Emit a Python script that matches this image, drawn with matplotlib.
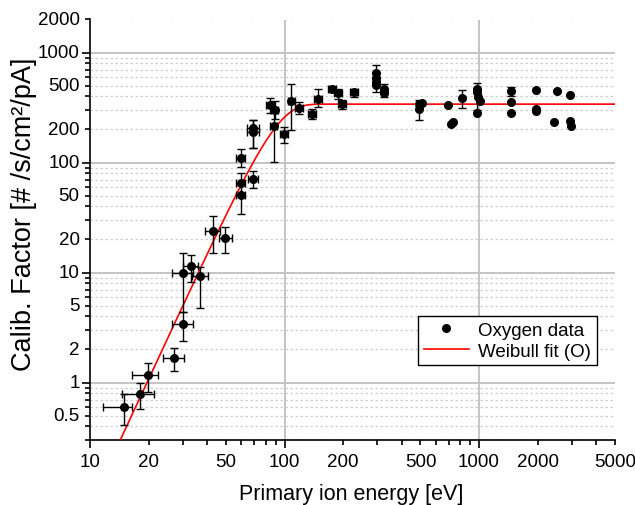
import numpy as np
import matplotlib.pyplot as plt
from matplotlib.ticker import FixedLocator, NullFormatter

plt.rcParams['font.family'] = ['Liberation Sans', 'DejaVu Sans']

# oxygen calibration data: energy [eV], calib factor, and error bounds
energy = [15.0, 18.1, 19.95, 27.0, 29.9, 29.9, 33.0, 36.8, 42.8, 49.6,
          59.6, 59.6, 59.6, 69.1, 69.1, 69.1, 84.1, 89.3, 88.5, 99.4,
          108.5, 118.5, 139, 148, 176, 188, 198, 228,
          295, 295, 295, 295, 326, 326, 326,
          493, 493, 507, 690, 718, 735, 818,
          977, 977, 990, 1006, 980,
          1466, 1466, 1466, 1960, 1960, 1960,
          2530, 2443, 2940, 2920, 2973]
factor = [0.60, 0.79, 1.17, 1.68, 3.39, 9.9, 11.5, 9.3, 23.9, 20.5,
          50.4, 65.8, 111, 71.6, 208, 188, 332, 303, 216, 180,
          360, 312, 279, 380, 470, 425, 339, 435,
          653, 589, 542, 512, 471, 441, 425,
          344, 308, 350, 332, 226, 235, 390,
          464, 441, 396, 364, 285,
          444, 356, 285, 454, 310, 295,
          449, 235, 415, 237, 216]
# lower / upper y error bounds (None = no bar)
y_lo = [0.41, 0.57, 0.82, 1.28, 2.37, 4.4, 8.2, 4.76, 15.2, 14.9,
        34.4, 50, 92, 59, 136, 136, 280, 250, 101, 151,
        199, 279, 250, 320, 440, 380, 310, 394,
        437, None, None, None, 395, None, None,
        242, None, None, None, None, None, 316,
        299, None, None, None, None,
        400, None, None, None, None, None,
        None, None, None, None, None]
y_hi = [0.79, 1.0, 1.49, 2.08, 4.4, 15.2, 14.3, 11.3, 32.5, 26.0,
        63, 80, 134, 83, 242, 242, 390, 360, 300, 211,
        522, 355, 310, 464, 500, 470, 370, 470,
        774, None, None, None, 522, None, None,
        369, None, None, None, None, None, 456,
        525, None, None, None, None,
        483, None, None, None, None, None,
        None, None, None, None, None]
x_lo = [11.7, 14.6, 16.5, 23.6, 26.3, 26.3, 30.0, 33.3, 39.0, 45.8,
        56.5, 56.5, 56.5, 65, 64.5, 64.5, 80, 85, 84, 95,
        104, 113, 132, 141, 168, 180, 189, 218,
        None, None, None, None, None, None, None,
        None, None, None, None, None, None, None,
        None, None, None, None, None,
        None, None, None, None, None, None,
        None, None, None, None, None]
x_hi = [16.4, 21.4, 22.4, 30.5, 33.7, 33.7, 36.0, 40.6, 46.6, 53.7,
        62.5, 63, 63, 73, 74, 74, 88, 93, 91, 104,
        113, 125, 146, 156, 184, 197, 208, 240,
        None, None, None, None, None, None, None,
        None, None, None, None, None, None, None,
        None, None, None, None, None,
        None, None, None, None, None, None,
        None, None, None, None, None]

xlabs = [10, 20, 50, 100, 200, 500, 1000, 2000, 5000]
ylabs = [0.5, 1, 2, 5, 10, 20, 50, 100, 200, 500, 1000, 2000]

# Weibull fit parameters (O)
fit_A = 340.0
fit_lam = 91.0
fit_k = 3.8

x = np.array(energy)
y = np.array(factor)

fig = plt.figure(figsize=(6.35, 5.06), dpi=100)
ax = fig.add_axes([90 / 635, 1 - 441 / 506, 525 / 635, 420.5 / 506])

ax.set_xscale('log')
ax.set_yscale('log')
ax.set_xlim(10, 5000)
ax.set_ylim(0.3, 2000)

# grid
for d in [1, 10, 100, 1000]:
    ax.axhline(d, color='#c4c4c4', lw=1.4, zorder=0)
minor_y = [m * 10.0 ** e for e in range(-1, 4) for m in range(2, 10)]
minor_y = [v for v in minor_y if 0.3 <= v <= 2000]
for v in minor_y:
    ax.axhline(v, color='#cfcfcf', lw=0.9, ls=(0, (2, 2)), zorder=0)
for d in [100, 1000]:
    ax.axvline(d, color='#c4c4c4', lw=1.4, zorder=0)

# fit curve
xf = np.geomspace(10, 5000, 600)
yf = fit_A * (1 - np.exp(-(xf / fit_lam) ** fit_k))
ax.plot(xf, yf, color='red', lw=1.2, zorder=3, label='Weibull fit (O)')

# error bars
my = np.array([v is not None for v in y_lo])
ylo = np.array([v if v is not None else np.nan for v in y_lo])
yhi = np.array([v if v is not None else np.nan for v in y_hi])
ax.errorbar(x[my], y[my], yerr=[y[my] - ylo[my], yhi[my] - y[my]], fmt='none',
            ecolor='black', elinewidth=1, capsize=3, capthick=1, zorder=4)
mx = np.array([v is not None for v in x_lo])
xlo = np.array([v if v is not None else np.nan for v in x_lo])
xhi = np.array([v if v is not None else np.nan for v in x_hi])
ax.errorbar(x[mx], y[mx], xerr=[x[mx] - xlo[mx], xhi[mx] - x[mx]], fmt='none',
            ecolor='black', elinewidth=1, capsize=3, capthick=1, zorder=4)

ax.plot(x, y, 'o', color='black', ms=5.5, zorder=5, label='Oxygen data')

# ticks
ax.xaxis.set_major_locator(FixedLocator([10, 100, 1000]))
ax.xaxis.set_minor_locator(FixedLocator([m * 10.0 ** e for e in range(1, 4) for m in range(2, 10)
                                         if m * 10.0 ** e <= 5000]))
ax.xaxis.set_major_formatter(NullFormatter())
ax.xaxis.set_minor_formatter(NullFormatter())
ax.yaxis.set_major_locator(FixedLocator([1, 10, 100, 1000]))
ax.yaxis.set_minor_locator(FixedLocator(minor_y))
ax.yaxis.set_major_formatter(NullFormatter())
ax.yaxis.set_minor_formatter(NullFormatter())
ax.tick_params(which='major', direction='out', length=6, width=1.2)
ax.tick_params(which='minor', direction='out', length=3.5, width=1.2)

for v in xlabs:
    ax.annotate(f'{v:g}', xy=(v, 0), xycoords=('data', 'axes fraction'),
                xytext=(0, -9.5), textcoords='offset points', ha='center', va='top',
                fontsize=13.5)
for v in ylabs:
    ax.annotate(f'{v:g}', xy=(0, v), xycoords=('axes fraction', 'data'),
                xytext=(-7.5, 0), textcoords='offset points', ha='right', va='center',
                fontsize=13.5)

for s in ['top', 'right']:
    ax.spines[s].set_visible(False)
for s in ['left', 'bottom']:
    ax.spines[s].set_linewidth(1.2)

fig.text(351 / 635, 1 - 495 / 506, 'Primary ion energy [eV]', ha='center', va='center', fontsize=15.5)
fig.text(24 / 635, 1 - 214 / 506, 'Calib. Factor [# /s/cm²/pA]', ha='center', va='center',
         rotation=90, fontsize=19.5)

h, l = ax.get_legend_handles_labels()
leg = ax.legend(h[::-1], l[::-1], loc='upper left', bbox_to_anchor=(0.625, 0.295),
                borderaxespad=0, fancybox=False, edgecolor='black', fontsize=13.5,
                handlelength=2.4, framealpha=1, borderpad=0.3, labelspacing=0.2,
                handletextpad=0.5)
leg.get_frame().set_linewidth(1)

fig.savefig('out.png', dpi=100)
